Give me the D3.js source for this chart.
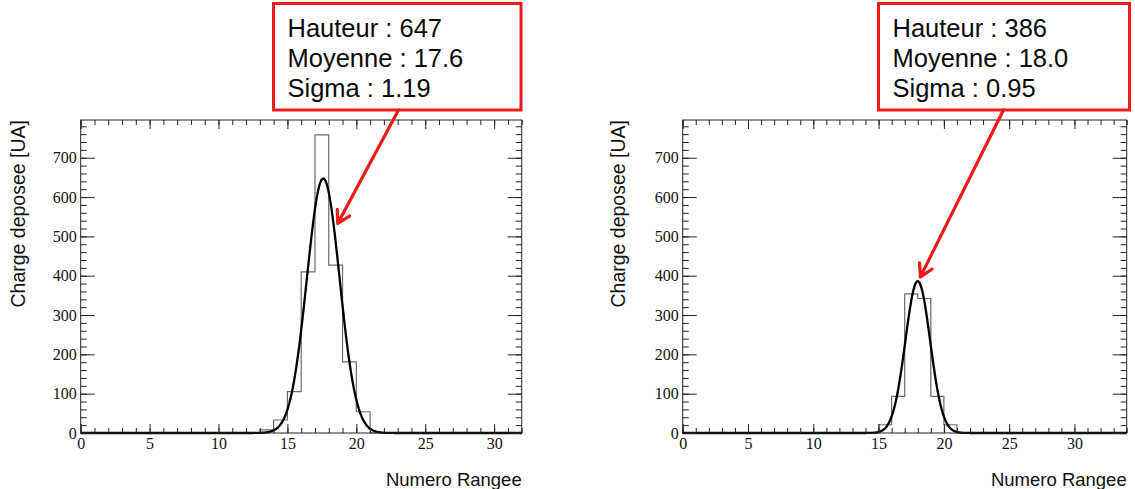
<!DOCTYPE html>
<html>
<head>
<meta charset="utf-8">
<script src="https://cdn.jsdelivr.net/npm/d3@7"></script>
<style>
  html, body { margin: 0; padding: 0; background: #fff; }
  svg { display: block; }
</style>
</head>
<body>
<svg id="chart" width="1135" height="489"></svg>
<script>
// ---- data ----
const yTicks = [0, 100, 200, 300, 400, 500, 600, 700];
const leftXTicks = [0, 5, 10, 15, 20, 25, 30];
const rightXTicks = [0, 5, 10, 15, 20, 25, 30];

const leftBinLo = [13, 14, 15, 16, 17, 18, 19, 20];
const leftCounts = [8, 33, 105, 410, 758, 427, 181, 54];
const rightBinLo = [15, 16, 17, 18, 19, 20];
const rightCounts = [21, 93, 354, 342, 93, 21];

const leftFit = [647, 17.6, 1.19];   // hauteur, moyenne, sigma
const rightFit = [386, 18.0, 0.95];

const leftLabels = ["Hauteur : 647", "Moyenne : 17.6", "Sigma : 1.19"];
const rightLabels = ["Hauteur : 386", "Moyenne : 18.0", "Sigma : 0.95"];

const yTitle = "Charge deposee [UA]";
const xTitle = "Numero Rangee";

// annotation arrow tips, in data coordinates
const leftTip = [18.65, 533];
const rightTip = [18.2, 397];

// ---- drawing ----
const svg = d3.select("#chart");
const RED = "#f01a1a";

function panel(opt) {
  const x = d3.scaleLinear().domain([0, opt.xMax]).range([opt.x0, opt.x1]);
  const y = d3.scaleLinear().domain([0, 796]).range([433, 120]);
  const g = svg.append("g");

  // histogram step outline over whole range
  const counts = new Array(opt.xMax).fill(0);
  opt.binLo.forEach((b, i) => counts[b] = opt.counts[i]);
  const pts = [];
  counts.forEach((v, i) => { pts.push([i, v]); pts.push([i + 1, v]); });
  g.append("path")
    .attr("d", d3.line().x(d => x(d[0])).y(d => y(d[1]))(pts))
    .attr("fill", "none").attr("stroke", "#6a6a6a").attr("stroke-width", 1.2);

  // gaussian fit curve
  const [h, m, s] = opt.fit;
  const curve = d3.range(0, opt.xMax + 0.0001, 0.02).map(t => [t, h * Math.exp(-0.5 * ((t - m) / s) ** 2)]);
  g.append("path")
    .attr("d", d3.line().x(d => x(d[0])).y(d => y(d[1]))(curve))
    .attr("fill", "none").attr("stroke", "#000").attr("stroke-width", 2.3)
    .attr("stroke-linejoin", "round");

  // frame
  g.append("rect").attr("x", opt.x0).attr("y", 120).attr("width", opt.x1 - opt.x0).attr("height", 313)
    .attr("fill", "none").attr("stroke", "#222").attr("stroke-width", 1);

  const xMinor = d3.range(0, opt.xMax + 1, 1);
  const yMinor = d3.range(0, 796, 20);

  function styleAxis(sel) {
    sel.select(".domain").remove();
    sel.selectAll("line").attr("stroke", "#222");
    sel.selectAll("text").attr("font-family", "'Liberation Serif', 'Times New Roman', serif")
      .attr("font-size", "16px").attr("fill", "#111");
  }
  // bottom
  g.append("g").attr("transform", "translate(0,433)")
    .call(d3.axisBottom(x).tickValues(xMinor).tickSize(-5).tickFormat("")).call(styleAxis);
  g.append("g").attr("transform", "translate(0,433)")
    .call(d3.axisBottom(x).tickValues(opt.xTicks).tickSize(-9).tickPadding(5)).call(styleAxis);
  // top
  g.append("g").attr("transform", "translate(0,120)")
    .call(d3.axisTop(x).tickValues(xMinor).tickSize(-5).tickFormat("")).call(styleAxis);
  g.append("g").attr("transform", "translate(0,120)")
    .call(d3.axisTop(x).tickValues(opt.xTicks).tickSize(-9).tickFormat("")).call(styleAxis);
  // left
  g.append("g").attr("transform", `translate(${opt.x0},0)`)
    .call(d3.axisLeft(y).tickValues(yMinor).tickSize(-6).tickFormat("")).call(styleAxis);
  g.append("g").attr("transform", `translate(${opt.x0},0)`)
    .call(d3.axisLeft(y).tickValues(yTicks).tickSize(-14).tickPadding(4)).call(styleAxis);
  // right
  g.append("g").attr("transform", `translate(${opt.x1},0)`)
    .call(d3.axisRight(y).tickValues(yMinor).tickSize(-6).tickFormat("")).call(styleAxis);
  g.append("g").attr("transform", `translate(${opt.x1},0)`)
    .call(d3.axisRight(y).tickValues(yTicks).tickSize(-14).tickFormat("")).call(styleAxis);

  // titles
  g.append("text").attr("transform", `translate(${opt.yTitleX},120) rotate(-90)`)
    .attr("text-anchor", "end").attr("font-family", "'Liberation Sans', Arial, sans-serif")
    .attr("font-size", "19.5px").attr("fill", "#111").text(yTitle);
  g.append("text").attr("x", opt.x1).attr("y", 485.5).attr("text-anchor", "end")
    .attr("font-family", "'Liberation Sans', Arial, sans-serif")
    .attr("font-size", "18.5px").attr("fill", "#111").text(xTitle);

  // annotation box
  g.append("rect").attr("x", opt.bx0).attr("y", 3.5).attr("width", opt.bx1 - opt.bx0).attr("height", 106.5)
    .attr("fill", "#fff").attr("stroke", RED).attr("stroke-width", 3);
  opt.labels.forEach((t, i) => {
    g.append("text").attr("x", opt.bx0 + 14).attr("y", 36.5 + i * 30.2)
      .attr("font-family", "'Liberation Sans', Arial, sans-serif").attr("font-size", "25.5px")
      .attr("fill", "#0a0a0a").text(t);
  });

  // arrow
  const sx = opt.arrowStart, sy = 110;
  const tx = x(opt.tip[0]), ty = y(opt.tip[1]);
  const ang = Math.atan2(ty - sy, tx - sx);
  const L = 14, a = Math.PI / 6;
  const p1 = [tx - L * Math.cos(ang - a), ty - L * Math.sin(ang - a)];
  const p2 = [tx - L * Math.cos(ang + a), ty - L * Math.sin(ang + a)];
  g.append("path").attr("d", `M${sx},${sy}L${tx},${ty}M${p1[0]},${p1[1]}L${tx},${ty}L${p2[0]},${p2[1]}`)
    .attr("fill", "none").attr("stroke", RED).attr("stroke-width", 3.2)
    .attr("stroke-linecap", "round").attr("stroke-linejoin", "round");
}

panel({ x0: 80.7, x1: 521.7, xMax: 32, xTicks: leftXTicks, binLo: leftBinLo, counts: leftCounts,
  fit: leftFit, labels: leftLabels, bx0: 273.5, bx1: 521, yTitleX: 25, arrowStart: 398.5, tip: leftTip });
panel({ x0: 682.7, x1: 1126.7, xMax: 34, xTicks: rightXTicks, binLo: rightBinLo, counts: rightCounts,
  fit: rightFit, labels: rightLabels, bx0: 878.5, bx1: 1129.5, yTitleX: 625, arrowStart: 1003.5, tip: rightTip });
</script>
</body>
</html>
